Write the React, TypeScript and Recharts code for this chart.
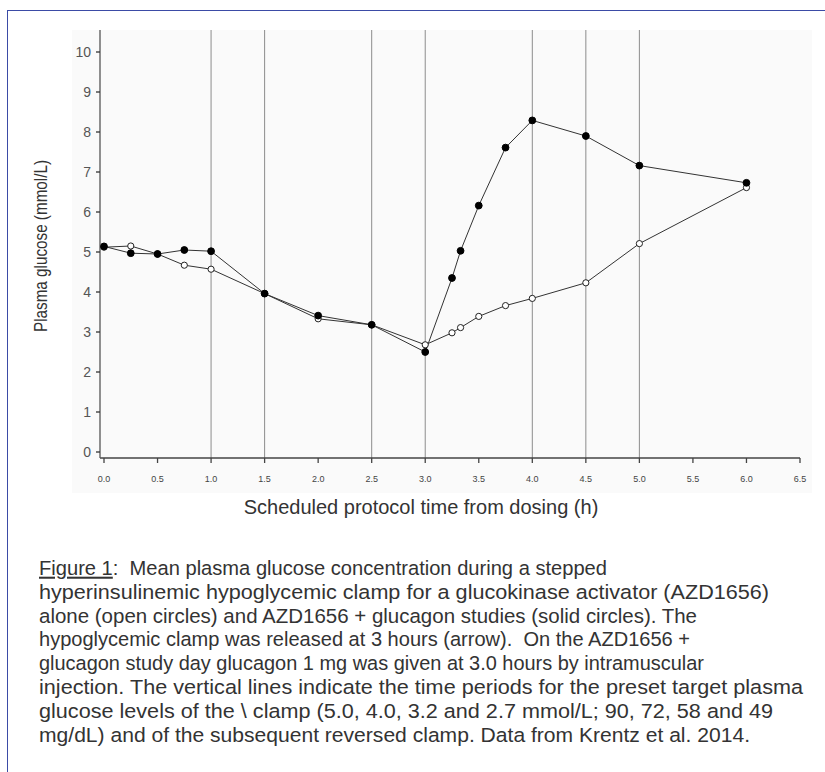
import React from 'react';
import { LineChart, Line, XAxis, YAxis, ReferenceLine } from 'recharts';

// Scheduled protocol time (h)
const times = [0, 0.25, 0.5, 0.75, 1.0, 1.5, 2.0, 2.5, 3.0, 3.25, 3.33, 3.5, 3.75, 4.0, 4.5, 5.0, 6.0];
// AZD1656 alone (open circles), mmol/L
const azdAlone = [5.12, 5.15, 4.95, 4.67, 4.57, 3.96, 3.33, 3.18, 2.68, 2.98, 3.11, 3.39, 3.66, 3.84, 4.23, 5.21, 6.61];
// AZD1656 + glucagon (solid circles), mmol/L
const azdGlucagon = [5.14, 4.97, 4.95, 5.05, 5.02, 3.96, 3.41, 3.18, 2.5, 4.35, 5.03, 6.16, 7.61, 8.29, 7.9, 7.16, 6.73];

const xTicks = [0, 0.5, 1, 1.5, 2, 2.5, 3, 3.5, 4, 4.5, 5, 5.5, 6, 6.5];
const yTicks = [0, 1, 2, 3, 4, 5, 6, 7, 8, 9, 10];
const periodLines = [1, 1.5, 2.5, 3, 4, 4.5, 5];

const xTitle = 'Scheduled protocol time from dosing (h)';
const yTitle = 'Plasma glucose (mmol/L)';

const captionLabel = 'Figure 1';
const captionFirst = ':  Mean plasma glucose concentration during a stepped';
const captionLines = [
  'hyperinsulinemic hypoglycemic clamp for a glucokinase activator (AZD1656)',
  'alone (open circles) and AZD1656 + glucagon studies (solid circles). The',
  'hypoglycemic clamp was released at 3 hours (arrow).  On the AZD1656 +',
  'glucagon study day glucagon 1 mg was given at 3.0 hours by intramuscular',
  'injection. The vertical lines indicate the time periods for the preset target plasma',
  'glucose levels of the \\ clamp (5.0, 4.0, 3.2 and 2.7 mmol/L; 90, 72, 58 and 49',
  'mg/dL) and of the subsequent reversed clamp. Data from Krentz et al. 2014.',
];

// rendered widths of the caption lines (layout)
const captionWidths = [568, 730, 658, 651, 665, 764, 734, 711];

const data = times.map((t, i) => ({ t, alone: azdAlone[i], glucagon: azdGlucagon[i] }));

const FONT = '"Liberation Sans", Arial, Helvetica, sans-serif';

const OpenDot = (props: any) => {
  const { cx, cy, index } = props;
  if (cx == null || cy == null) return <g key={`o-${index}`} />;
  return <circle key={`o-${index}`} cx={cx} cy={cy} r={3.1} fill="#fff" stroke="#222" strokeWidth={1} />;
};

const SolidDot = (props: any) => {
  const { cx, cy, index } = props;
  if (cx == null || cy == null) return <g key={`s-${index}`} />;
  return <circle key={`s-${index}`} cx={cx} cy={cy} r={3.4} fill="#000" stroke="#000" strokeWidth={1} />;
};

const CAP_X = 39;
const CAP_Y0 = 574.7;
const CAP_LH = 23.9;

export default function App() {
  return (
    <div style={{ position: 'absolute', left: 0, top: 0, width: 825, height: 772, background: '#fff', overflow: 'hidden', fontFamily: FONT }}>
      <div style={{ position: 'absolute', left: 7, top: 10, width: 900, height: 900, border: '1.5px solid #3b4ba6', boxSizing: 'border-box' }} />
      <div style={{ position: 'absolute', left: 72, top: 30, width: 740, height: 463, background: '#fafafa' }} />
      <div style={{ position: 'absolute', left: 0, top: 0 }}>
        <LineChart width={825} height={530} data={data} margin={{ top: 30, right: 25, bottom: 42, left: 40 }}>
          <XAxis
            dataKey="t"
            type="number"
            domain={[0, 6.5]}
            ticks={xTicks}
            interval={0}
            tickFormatter={(v: number) => v.toFixed(1)}
            padding={{ left: 4, right: 0 }}
            height={30}
            tickSize={5}
            tickMargin={13}
            axisLine={{ stroke: '#444', strokeWidth: 1.3 }}
            tickLine={{ stroke: '#444', strokeWidth: 1.3 }}
            tick={{ fill: '#444', fontSize: 9, fontFamily: FONT }}
            label={{
              content: () => (
                <text x={421} y={514} textAnchor="middle" fill="#333" fontSize={20} fontFamily={FONT}>
                  {xTitle}
                </text>
              ),
            }}
          />
          <YAxis
            type="number"
            domain={[0, 10]}
            ticks={yTicks}
            interval={0}
            padding={{ top: 22, bottom: 6 }}
            width={60}
            tickSize={4}
            tickMargin={5}
            axisLine={{ stroke: '#555', strokeWidth: 1.3 }}
            tickLine={{ stroke: '#333', strokeWidth: 1.3 }}
            tick={{ fill: '#555', fontSize: 14, fontFamily: FONT }}
            label={{
              content: () => (
                <text
                  x={47}
                  y={246}
                  textAnchor="middle"
                  fill="#333"
                  fontSize={19}
                  fontFamily={FONT}
                  textLength={172}
                  lengthAdjust="spacingAndGlyphs"
                  transform="rotate(-90 47 246)"
                >
                  {yTitle}
                </text>
              ),
            }}
          />
          {periodLines.map((x) => (
            <ReferenceLine key={x} x={x} stroke="#8c8c8c" strokeWidth={1} ifOverflow="visible" />
          ))}
          <Line type="linear" dataKey="alone" stroke="#333" strokeWidth={1} dot={OpenDot} activeDot={false} isAnimationActive={false} />
          <Line type="linear" dataKey="glucagon" stroke="#333" strokeWidth={1} dot={SolidDot} activeDot={false} isAnimationActive={false} />
        </LineChart>
      </div>
      <svg width={825} height={772} style={{ position: 'absolute', left: 0, top: 0, pointerEvents: 'none' }}>
        <text
          x={CAP_X}
          y={CAP_Y0}
          fontSize={20.5}
          fontFamily={FONT}
          fill="#333"
          textLength={captionWidths[0]}
          lengthAdjust="spacingAndGlyphs"
          style={{ whiteSpace: 'pre' }}
        >
          <tspan style={{ textDecoration: 'underline' }}>{captionLabel}</tspan>
          <tspan>{captionFirst}</tspan>
        </text>
        {captionLines.map((l, i) => (
          <text
            key={i}
            x={CAP_X}
            y={CAP_Y0 + CAP_LH * (i + 1)}
            fontSize={20.5}
            fontFamily={FONT}
            fill="#333"
            textLength={captionWidths[i + 1]}
            lengthAdjust="spacingAndGlyphs"
            style={{ whiteSpace: 'pre' }}
          >
            {l}
          </text>
        ))}
      </svg>
    </div>
  );
}
